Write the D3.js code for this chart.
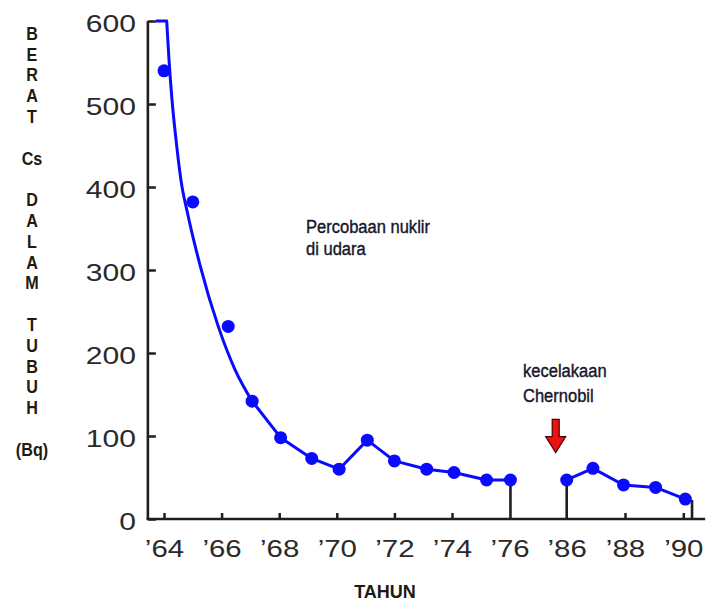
<!DOCTYPE html>
<html><head><meta charset="utf-8">
<script src="https://cdn.jsdelivr.net/npm/d3@7"></script>
<style>body{margin:0;background:#fff}</style>
</head><body><svg id="c" width="709" height="604"></svg>
<script>
// ---- data ----
const pointYears1  = [64.0, 65.0, 66.23, 67.06, 68.05, 69.13, 70.08, 71.06, 72.0, 73.12, 74.07, 75.2, 76.15];
const pointValues1 = [540, 382, 232, 142, 98, 73, 60, 95, 70, 60, 56, 47, 47];
const pointYears2  = [86.0, 86.9, 87.95, 89.05, 90.07];
const pointValues2 = [47, 61, 41, 38, 24];
// smooth fitted curve (early years)
const fitYears  = [64.094, 64.174, 64.278, 64.417, 64.59, 64.833, 65.25, 65.875, 66.465];
const fitValues = [600, 553, 505, 457, 408, 366, 306, 233, 180];
const xTickYears  = [64, 66, 68, 70, 72, 74, 76, 86, 88, 90];
const xTickLabels = ["’64", "’66", "’68", "’70", "’72", "’74", "’76", "’86", "’88", "’90"];
const xTickHidden = [76, 86];
const yTicks = [0, 100, 200, 300, 400, 500, 600];
const yTitle = ["B","E","R","A","T","","Cs","","D","A","L","A","M","","T","U","B","U","H","","(Bq)"];
const xTitle = "TAHUN";
const note1 = ["Percobaan nuklir", "di udara"];
const note2 = ["kecelakaan", "Chernobil"];
const endYear = 90.3, endValue = 23;
const arrowTopValue = 120, arrowTipValue = 80;
const xMin = 63.44, xMax = 90.75, yMax = 600;

// ---- scales ----
const svg = d3.select("#c");
svg.append("rect").attr("width", 709).attr("height", 604).attr("fill", "#fff");
const x = d3.scaleLinear().domain([64, 76, 86, 90]).range([164, 509.6, 566.7, 683.3]);
const y = d3.scaleLinear().domain([0, 600]).range([519, 21]);
const ink = "#1e1e1e", blue = "#0a0aff";
const font = "Liberation Sans, Arial, sans-serif";

// ---- axes ----
const yAxis = d3.axisLeft(y).tickValues(yTicks).tickSizeInner(-8).tickSizeOuter(0).tickPadding(0);
const gy = svg.append("g").attr("transform", `translate(${x(xMin)},0)`).call(yAxis);
gy.select(".domain").remove();
gy.selectAll(".tick line").attr("stroke", ink).attr("stroke-width", 2.5);
gy.selectAll(".tick text")
  .attr("x", 0).attr("dy", "0.45em")
  .attr("transform", "translate(-12,0) scale(1.28,1)")
  .attr("font-family", font)
  .attr("font-size", 23.5).attr("fill", "#2a2a2a");

const xAxis = d3.axisBottom(x).tickValues(xTickYears)
  .tickFormat((d, i) => xTickLabels[i]).tickSizeInner(-6).tickSizeOuter(0).tickPadding(0);
const gx = svg.append("g").attr("transform", `translate(0,${y(0)})`).call(xAxis);
gx.select(".domain").remove();
gx.selectAll(".tick line").attr("stroke", ink).attr("stroke-width", 2.5)
  .attr("display", d => xTickHidden.includes(d) ? "none" : null);
gx.selectAll(".tick text")
  .attr("y", 0).attr("dy", 38)
  .attr("transform", "scale(1.28,1)")
  .attr("font-family", font)
  .attr("font-size", 23).attr("fill", "#2a2a2a");

// axis lines
svg.append("line").attr("x1", x(xMin)).attr("x2", x(xMin)).attr("y1", y(0)).attr("y2", y(yMax))
  .attr("stroke", ink).attr("stroke-width", 2.6);
svg.append("line").attr("x1", x(xMin) - 1.3).attr("x2", x(xMax)).attr("y1", y(0)).attr("y2", y(0))
  .attr("stroke", ink).attr("stroke-width", 2.6);

// ---- drop lines (segment ends) ----
const drops = [
  [pointYears1[pointYears1.length - 1], pointValues1[pointValues1.length - 1]],
  [pointYears2[0], pointValues2[0]],
  [endYear, endValue]
];
svg.selectAll("line.drop").data(drops).enter().append("line").attr("class", "drop")
  .attr("x1", d => x(d[0])).attr("x2", d => x(d[0]))
  .attr("y1", d => y(d[1])).attr("y2", y(0))
  .attr("stroke", ink).attr("stroke-width", 2.6);

// ---- curves ----
const pts1 = pointYears1.map((d, i) => [d, pointValues1[i]]);
const pts2 = pointYears2.map((d, i) => [d, pointValues2[i]]);
const fit = fitYears.map((d, i) => [d, fitValues[i]]).concat([pts1[3]]);
const smooth = d3.line().x(d => x(d[0])).y(d => y(d[1])).curve(d3.curveMonotoneX);
const straight = d3.line().x(d => x(d[0])).y(d => y(d[1]));
const d1 = `M${x(xMin) + 8},${y(yMax)}L` + smooth(fit).slice(1) + "L" + straight(pts1.slice(4)).slice(1);
svg.append("path").attr("d", d1).attr("fill", "none").attr("stroke", blue)
  .attr("stroke-width", 3).attr("stroke-linejoin", "round");
svg.append("path").attr("d", straight(pts2)).attr("fill", "none").attr("stroke", blue)
  .attr("stroke-width", 3).attr("stroke-linejoin", "round");

svg.selectAll("circle.p").data(pts1.concat(pts2)).enter().append("circle").attr("class", "p")
  .attr("cx", d => x(d[0])).attr("cy", d => y(d[1])).attr("r", 6.5).attr("fill", blue);

// ---- y title ----
svg.append("g").attr("transform", "translate(32,0) scale(0.85,1)")
  .selectAll("text").data(yTitle).enter().append("text")
  .attr("x", 0).attr("y", (d, i) => 33 + i * 20.8).attr("dy", "0.36em")
  .attr("text-anchor", "middle")
  .attr("font-family", font)
  .attr("font-weight", "bold").attr("font-size", 19).attr("fill", "#221a10")
  .text(d => d);

// ---- x title ----
svg.append("text").attr("x", 385).attr("y", 598).attr("text-anchor", "middle")
  .attr("font-family", font)
  .attr("font-weight", "bold").attr("font-size", 18).attr("fill", "#221a10").text(xTitle);

// ---- annotations ----
svg.append("g").attr("transform", "translate(306,0) scale(0.87,1)")
  .selectAll("text").data(note1).enter().append("text")
  .attr("x", 0).attr("y", (d, i) => 233 + i * 22)
  .attr("font-family", font)
  .attr("font-size", 19).attr("fill", "#15152a")
  .attr("stroke", "#15152a").attr("stroke-width", 0.4).text(d => d);
svg.append("g").attr("transform", "translate(523,0) scale(0.87,1)")
  .selectAll("text").data(note2).enter().append("text")
  .attr("x", 0).attr("y", (d, i) => 377 + i * 25)
  .attr("font-family", font)
  .attr("font-size", 19).attr("fill", "#15152a")
  .attr("stroke", "#15152a").attr("stroke-width", 0.4).text(d => d);

// ---- arrow ----
const ax = x(pointYears2[0]) - 11, yt = y(arrowTopValue), yp = y(arrowTipValue);
const hw = 3.5, hh = 10, hl = 16;
svg.append("path")
  .attr("d", `M${ax - hw},${yt}L${ax + hw},${yt}L${ax + hw},${yp - hl}L${ax + hh},${yp - hl}L${ax},${yp}L${ax - hh},${yp - hl}L${ax - hw},${yp - hl}Z`)
  .attr("fill", "#ee1111").attr("stroke", "#4a0000").attr("stroke-width", 1.2);
</script></body></html>
